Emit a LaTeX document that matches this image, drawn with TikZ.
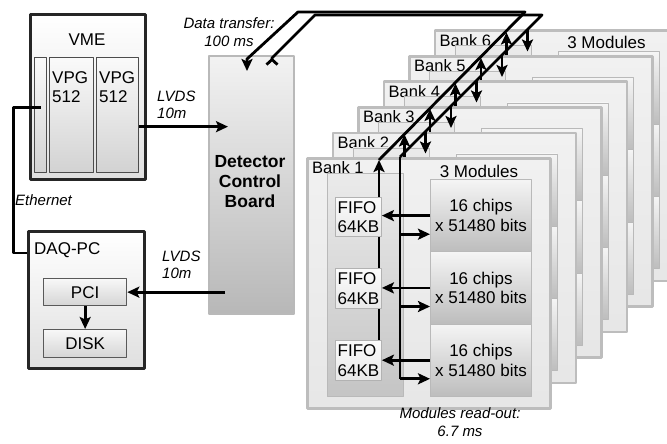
\documentclass[tikz,border=0pt]{standalone}
\usepackage{fontspec}
\setmainfont{Liberation Sans}
\usetikzlibrary{arrows.meta,calc,positioning}
\tikzset{
  wire/.style={line width=2.8pt},
  arr/.style={wire,-{Stealth[length=12pt,width=11pt,inset=2.5pt]}},
  lbl/.style={font=\fontsize{15}{17.5}\selectfont\itshape,align=center,inner sep=0pt},
  banklbl/.style={font=\fontsize{16.5}{18}\selectfont,anchor=west,inner sep=0pt},
  crate/.style={draw=black!85,line width=3pt,top color=white,bottom color=gray!25,anchor=north west,inner sep=0pt},
  slot/.style={draw=black!70,line width=1.3pt,top color=gray!4,bottom color=gray!35,anchor=north west,inner sep=0pt,minimum height=115pt},
  card/.style={draw=black!65,line width=1.3pt,top color=gray!6,bottom color=gray!33,anchor=north west,minimum width=83pt,inner sep=0pt},
  dcbbox/.style={draw=gray!55,line width=1.8pt,top color=gray!10,bottom color=gray!56,anchor=north west,inner sep=0pt},
  bankbox/.style={draw=gray!52,line width=2.6pt,top color=gray!11,bottom color=gray!19,anchor=north west,minimum width=243pt,minimum height=250pt,inner sep=0pt},
  panel/.style={draw=gray!55,line width=0.9pt,top color=gray!16,bottom color=gray!46,anchor=north west,minimum width=76pt,minimum height=223pt,inner sep=0pt},
  module/.style={draw=gray!55,line width=0.9pt,top color=gray!8,bottom color=gray!52,anchor=north west,minimum width=101pt,minimum height=72.3pt,inner sep=0pt,align=center},
  fifo/.style={draw=gray!60,line width=0.9pt,top color=gray!3,bottom color=gray!18,anchor=north west,minimum width=46pt,minimum height=39pt,inner sep=1pt,align=left},
}
\begin{document}
\begin{tikzpicture}[x=1pt,y=-1pt,>=Stealth,line join=round,font=\fontsize{17}{19.5}\selectfont]
\useasboundingbox (0,0) rectangle (667,444);
\clip (0,0) rectangle (667,444);
% --- VME crate and DAQ-PC
\node[crate,minimum width=115pt,minimum height=165pt] (vme) at (29,13) {};
\node (vmelbl) at (87,40) {VME};
\node[slot,minimum width=12pt] (ethslot) at (34,57) {};
\node[slot,minimum width=44pt] (vpga) at (49,57) {};
\node[slot,minimum width=42pt] (vpgb) at (96,57) {};
\node[anchor=north west,align=left,inner sep=0pt] (vpgalbl) at (52,71) {VPG\\512};
\node[anchor=north west,align=left,inner sep=0pt] (vpgblbl) at (99,71) {VPG\\512};
\node[crate,minimum width=116pt,minimum height=137pt] (daq) at (27,230) {};
\node[anchor=west,inner sep=0pt] (daqlbl) at (34,250) {DAQ-PC};
\node[card,minimum height=27pt] (pci) at (43,278) {PCI};
\node[card,minimum height=28pt] (disk) at (43,329) {DISK};
\draw[arr] (pci) -- (disk);
\draw[wire] ([yshift=7.5pt]ethslot.center) -- ++(-27,0) |- ([yshift=-23pt]daq.north west);
\node[lbl,anchor=west] (ethlbl) at (15,200) {Ethernet};
% --- detector control board
\node[dcbbox,minimum width=85pt,minimum height=258pt] (dcb) at (208,55) {};
\node[font=\fontsize{17.5}{20}\selectfont\bfseries,align=center] (dcblbl) at (250,182) {Detector\\Control\\Board};
\coordinate (vmeout) at ([yshift=-11.5pt]vpgb.east);
\draw[arr] (vmeout) -- ($(vmeout -| dcb.west)+(20,0)$);
\node[lbl,align=left,anchor=west] (lvdsa) at (157,105) {LVDS\\10m};
\draw[arr] ($(pci.east -| dcb.west)+(17,0)$) -- (pci.east);
\node[lbl,align=left,anchor=west] (lvdsb) at (162,265) {LVDS\\10m};
\node[lbl] (dtlbl) at (229,32) {Data transfer:\\100 ms};
% --- banks 6 to 2, stacked behind
\foreach \k in {6,5,4,3,2}{
\begin{scope}[shift={({306+25.5*(\k-1)},{157-25.5*(\k-1)})}]
\node[bankbox] (bank\k) at (0,0) {};
\node[banklbl] (banklbl\k) at (6,11) {Bank \k};
\node[panel] (panel\k) at (21,16) {};
\foreach \i in {1,2,3} \node[module] (mod\k-\i) at (124,{22+72.3*(\i-1)}) {};
\coordinate (rx\k) at (73,3);
\coordinate (tx\k) at (94,0);
\draw[arr] ([yshift=-27pt]rx\k) -- (rx\k);
\draw[arr] (tx\k) -- ([yshift=-22pt]tx\k);
\ifnum\k=6 \node (modlbl6) at (173,13) {3 Modules};\fi
\end{scope}}
% --- bank 1, in front
\begin{scope}[shift={(306,157)}]
\node[bankbox] (bank1) at (0,0) {};
\node[banklbl] (banklbl1) at (6,11) {Bank 1};
\node (modlbl1) at (173,14) {3 Modules};
\node[panel] (panel1) at (21,16) {};
\coordinate (rx1) at (73,3);
\coordinate (tx1) at (94,0);
\coordinate (f3top) at (73,183);
\draw[arr] (f3top) -- (rx1);
\node[fifo] (f1) at (29,40) {FIFO\\64KB};
\node[fifo,minimum height=40pt] (f2) at (29,111) {FIFO\\64KB};
\node[fifo,minimum height=40pt] (f3) at (29,183) {FIFO\\64KB};
\foreach \i in {1,2,3}{
  \node[module] (m\i) at (124,{22+72.3*(\i-1)}) {16 chips\\x 51480 bits};
  \coordinate (min\i) at ([yshift=18pt]m\i.south west);
  \draw[arr] (m\i.west) -- (m\i.west -| f\i.east);
  \draw[arr] (tx1 |- min\i) -- (min\i);
}
\draw[wire] (tx1) -- (tx1 |- min3);
\end{scope}
\node[lbl] (rolbl) at (460,422) {Modules read-out:\\6.7 ms};
% --- data transfer lines
\coordinate (dcbin) at ($(dcb.north west)+(39,16)$);
\coordinate (dcbout) at ($(dcb.north west)+(64,11)$);
\coordinate (rtA) at (298,12);
\coordinate (rtB) at (525,12);
\coordinate (txA) at (315,15);
\coordinate (txB) at (542,15);
\draw[arr] (rx1) -- (rtB) -- (rtA) -- ($(dcbin)+(0,-12)$) -- (dcbin);
\draw[wire,{Straight Barb[reversed,length=5pt,width=11pt]}-] (dcbout) -- ($(dcbout)+(0,-8)$) -- (txA) -- (txB) -- (tx1);
\end{tikzpicture}
\end{document}
